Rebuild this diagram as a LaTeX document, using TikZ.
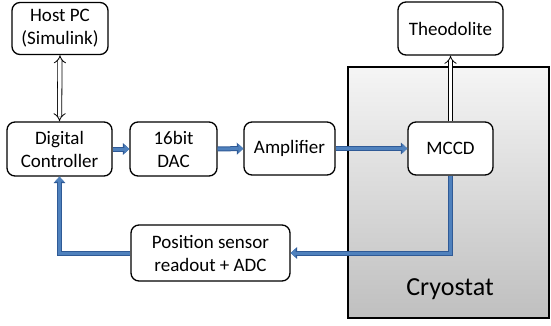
\documentclass[tikz,border=0pt]{standalone}
\usepackage{fontspec}
\setmainfont{Carlito}
\usetikzlibrary{arrows.meta}
\definecolor{bluefill}{HTML}{4F81BD}
\definecolor{blueedge}{HTML}{2F5A96}
\begin{document}
\begin{tikzpicture}[x=1pt,y=-1pt,
  blk/.style={draw=black, line width=1.3pt, fill=white, rounded corners=8pt,
    align=center, font=\fontsize{19}{23}\selectfont, inner sep=0pt},
  bluearrow/.style={draw=bluefill, line width=3pt,
    -{Triangle[length=5pt,width=9pt]},
    preaction={draw=blueedge, line width=5pt, -{Triangle[length=6.5pt,width=11.5pt]}}},
  hollow/.style={draw=black, line width=0.8pt, double=white, double distance=3.5pt},
]
\useasboundingbox (0,0) rectangle (551,326);
\shade[top color=gray!8, bottom color=gray!50, draw=black, line width=1.8pt] (348,67) rectangle (549,318);
\node[font=\fontsize{26}{30}\selectfont] (cryo) at (450,289) {Cryostat};
\node[blk, minimum width=96pt, minimum height=52pt] (host) at (60,28.5) {Host PC\\(Simulink)};
\node[blk, minimum width=105pt, minimum height=54pt] (dc) at (59.5,149) {Digital\\Controller};
\node[blk, minimum width=87pt, minimum height=54pt] (dac) at (173.5,149) {16bit\\DAC};
\node[blk, minimum width=91pt, minimum height=53pt] (amp) at (289.5,148.5) {Amplifier};
\node[blk, minimum width=85pt, minimum height=53pt] (mccd) at (450.5,148.5) {MCCD};
\node[blk, minimum width=105pt, minimum height=53pt] (theo) at (450.5,28.5) {Theodolite};
\node[blk, minimum width=159pt, minimum height=56pt] (pos) at (210.5,253) {Position sensor\\readout + ADC};
\draw[hollow, {Implies}-{Implies}] (host.south) -- (dc.north);
\draw[hollow, -{Implies}] (mccd.north) -- (theo.south);
\draw[bluearrow] (dc.east) -- (dac.west);
\draw[bluearrow] (dac.east) -- (amp.west);
\draw[bluearrow] (amp.east) -- (mccd.west);
\draw[bluearrow] (mccd.south) |- (pos.east);
\draw[bluearrow] (pos.west) -| (dc.south);
\end{tikzpicture}
\end{document}
